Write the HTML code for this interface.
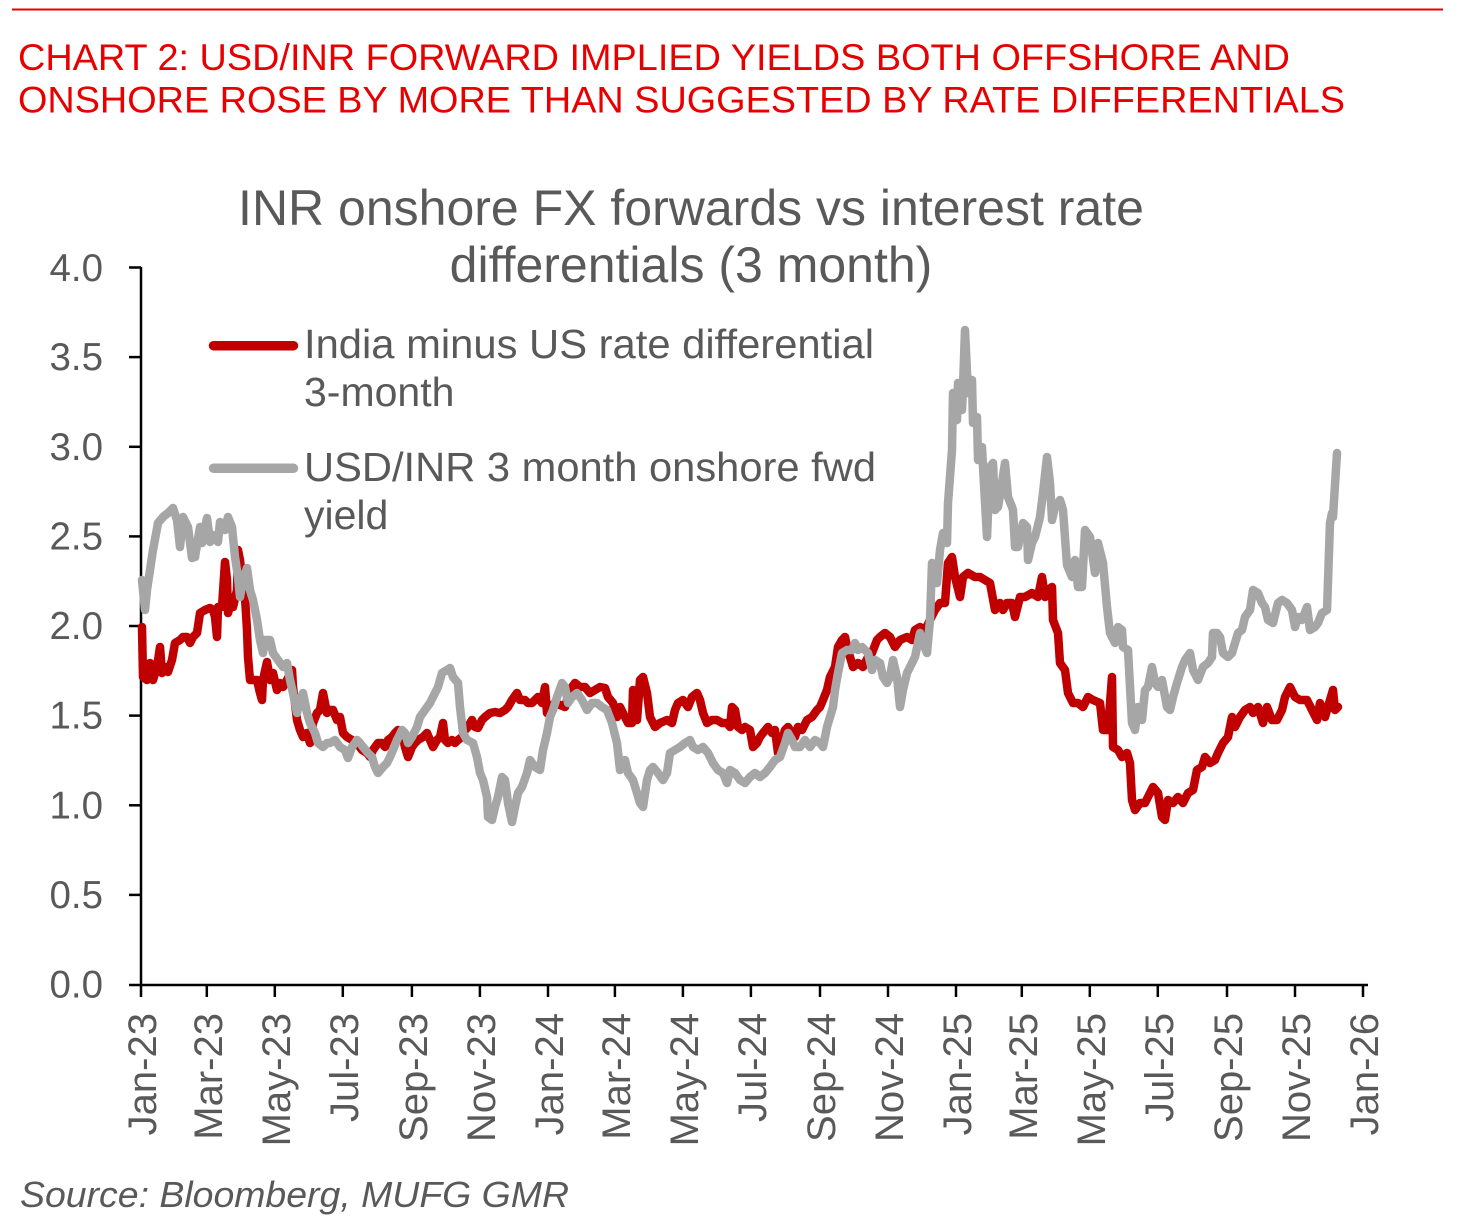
<!DOCTYPE html>
<html>
<head>
<meta charset="utf-8">
<style>
  html, body { margin:0; padding:0; background:#ffffff; }
  body { width:1465px; height:1223px; overflow:hidden; }
  svg { display:block; }
  text { font-family: "Liberation Sans", Arial, sans-serif; }
</style>
</head>
<body>
<svg width="1465" height="1223" viewBox="0 0 1465 1223" xmlns="http://www.w3.org/2000/svg">
  <rect x="0" y="0" width="1465" height="1223" fill="#ffffff"/>
  <!-- top rule -->
  <line x1="12" y1="9.5" x2="1443" y2="9.5" stroke="#E60000" stroke-width="2"/>

  <!-- red heading -->
  <text x="18" y="70" font-size="37.5" fill="#E60000" textLength="1272" lengthAdjust="spacingAndGlyphs">CHART 2: USD/INR FORWARD IMPLIED YIELDS BOTH OFFSHORE AND</text>
  <text x="18" y="112.7" font-size="37.5" fill="#E60000" textLength="1327" lengthAdjust="spacingAndGlyphs">ONSHORE ROSE BY MORE THAN SUGGESTED BY RATE DIFFERENTIALS</text>

  <!-- chart title -->
  <text x="691" y="225" font-size="50" fill="#595959" text-anchor="middle">INR onshore FX forwards vs interest rate</text>
  <text x="691" y="282" font-size="50" fill="#595959" text-anchor="middle">differentials (3 month)</text>

  <!-- y axis labels -->
  <g font-size="38.5" fill="#595959" text-anchor="end">
    <text x="103" y="281">4.0</text>
    <text x="103" y="370.2">3.5</text>
    <text x="103" y="459.9">3.0</text>
    <text x="103" y="549.5">2.5</text>
    <text x="103" y="639.1">2.0</text>
    <text x="103" y="728.7">1.5</text>
    <text x="103" y="818.4">1.0</text>
    <text x="103" y="908">0.5</text>
    <text x="103" y="997.5">0.0</text>
  </g>

  <!-- axes -->
  <g stroke="#000000" stroke-width="2.5" fill="none">
    <line x1="141" y1="267" x2="141" y2="986"/>
    <line x1="129" y1="985" x2="1368" y2="985"/>
    <!-- y ticks -->
    <line x1="129" y1="267.5" x2="141" y2="267.5"/>
    <line x1="129" y1="357.1" x2="141" y2="357.1"/>
    <line x1="129" y1="446.8" x2="141" y2="446.8"/>
    <line x1="129" y1="536.4" x2="141" y2="536.4"/>
    <line x1="129" y1="626" x2="141" y2="626"/>
    <line x1="129" y1="715.6" x2="141" y2="715.6"/>
    <line x1="129" y1="805.3" x2="141" y2="805.3"/>
    <line x1="129" y1="894.9" x2="141" y2="894.9"/>
    <!-- x ticks -->
    <line x1="141" y1="985" x2="141" y2="997"/>
    <line x1="206.8" y1="985" x2="206.8" y2="997"/>
    <line x1="274.8" y1="985" x2="274.8" y2="997"/>
    <line x1="342.8" y1="985" x2="342.8" y2="997"/>
    <line x1="411.9" y1="985" x2="411.9" y2="997"/>
    <line x1="479.9" y1="985" x2="479.9" y2="997"/>
    <line x1="548" y1="985" x2="548" y2="997"/>
    <line x1="614.9" y1="985" x2="614.9" y2="997"/>
    <line x1="682.9" y1="985" x2="682.9" y2="997"/>
    <line x1="750.9" y1="985" x2="750.9" y2="997"/>
    <line x1="820" y1="985" x2="820" y2="997"/>
    <line x1="888" y1="985" x2="888" y2="997"/>
    <line x1="956" y1="985" x2="956" y2="997"/>
    <line x1="1021.8" y1="985" x2="1021.8" y2="997"/>
    <line x1="1089.8" y1="985" x2="1089.8" y2="997"/>
    <line x1="1157.8" y1="985" x2="1157.8" y2="997"/>
    <line x1="1227" y1="985" x2="1227" y2="997"/>
    <line x1="1295" y1="985" x2="1295" y2="997"/>
    <line x1="1363" y1="985" x2="1363" y2="997"/>
  </g>

  <!-- x axis labels (rotated) -->
  <g font-size="40" fill="#595959" text-anchor="end">
    <text transform="translate(156,1013) rotate(-90)">Jan-23</text>
    <text transform="translate(221.8,1013) rotate(-90)">Mar-23</text>
    <text transform="translate(289.8,1013) rotate(-90)">May-23</text>
    <text transform="translate(357.8,1013) rotate(-90)">Jul-23</text>
    <text transform="translate(426.9,1013) rotate(-90)">Sep-23</text>
    <text transform="translate(494.9,1013) rotate(-90)">Nov-23</text>
    <text transform="translate(563,1013) rotate(-90)">Jan-24</text>
    <text transform="translate(629.9,1013) rotate(-90)">Mar-24</text>
    <text transform="translate(697.9,1013) rotate(-90)">May-24</text>
    <text transform="translate(765.9,1013) rotate(-90)">Jul-24</text>
    <text transform="translate(835,1013) rotate(-90)">Sep-24</text>
    <text transform="translate(903,1013) rotate(-90)">Nov-24</text>
    <text transform="translate(971,1013) rotate(-90)">Jan-25</text>
    <text transform="translate(1036.8,1013) rotate(-90)">Mar-25</text>
    <text transform="translate(1104.8,1013) rotate(-90)">May-25</text>
    <text transform="translate(1172.8,1013) rotate(-90)">Jul-25</text>
    <text transform="translate(1242,1013) rotate(-90)">Sep-25</text>
    <text transform="translate(1310,1013) rotate(-90)">Nov-25</text>
    <text transform="translate(1378,1013) rotate(-90)">Jan-26</text>
  </g>

  <!-- red series -->
  <polyline fill="none" stroke="#C00000" stroke-width="8.5" stroke-linejoin="round" stroke-linecap="round"
    points="142,627 143,677 147,680 150,663 153,680 157,667 160,647 162,673 165,667 168,672 172,660 175,643 180,640 183,637 187,637 190,643 193,637 197,633 200,613 205,610 210,608 213,610 215,617 217,637 218,607 222,607 225,562 227,580 228,613 232,600 233,607 237,590 238,550 240,560 243,587 245,597 247,630 248,657 250,680 253,680 257,680 260,693 262,700 263,680 267,662 270,680 273,673 277,690 280,683 283,687 287,680 292,670 293,687 297,720 300,730 303,737 307,733 310,743 313,723 317,713 320,710 323,693 327,713 330,710 333,710 337,720 340,717 343,733 347,737 352,740 357,743 362,750 367,753 370,757 373,750 378,743 382,743 385,747 388,740 392,737 395,733 398,730 402,733 405,747 408,757 412,747 415,743 418,740 423,737 427,733 430,740 433,747 437,740 440,737 443,723 445,740 448,743 452,740 455,743 458,740 462,737 465,730 468,727 472,720 475,727 478,728 482,720 485,717 490,713 495,712 500,713 505,710 508,707 512,700 517,693 520,700 525,700 528,703 532,703 535,700 538,697 542,703 545,687 547,713 550,707 555,703 560,705 565,707 570,690 575,683 580,687 585,687 590,693 595,690 600,687 605,688 608,697 613,703 617,717 620,707 625,717 628,723 632,723 633,690 637,720 640,680 643,677 647,693 650,717 655,727 660,723 667,720 672,723 675,710 678,703 683,700 688,707 692,697 697,693 700,700 703,713 707,723 712,720 717,720 722,723 727,723 730,727 732,707 735,710 738,727 742,730 745,727 750,730 753,747 757,743 760,737 763,733 768,727 772,733 775,730 778,753 782,740 785,730 788,727 792,733 795,737 798,727 802,730 807,720 812,717 817,710 820,707 823,700 827,690 830,677 835,667 838,647 842,640 845,637 847,647 850,657 853,667 858,663 863,667 868,657 872,653 877,640 880,637 885,633 890,637 895,647 900,640 907,637 912,640 915,630 920,627 925,630 930,620 935,610 940,603 945,603 948,563 952,557 955,577 960,597 963,577 968,573 975,577 980,577 985,580 990,583 995,610 1000,603 1003,610 1007,603 1012,603 1015,617 1020,597 1025,597 1032,593 1038,597 1042,577 1045,597 1048,590 1052,587 1053,620 1058,633 1060,663 1065,670 1068,693 1073,703 1078,703 1083,707 1088,697 1093,700 1100,703 1103,730 1108,730 1112,677 1113,747 1118,750 1122,757 1127,753 1130,763 1132,800 1135,810 1140,803 1145,803 1148,797 1153,787 1158,793 1162,817 1165,820 1168,800 1173,803 1178,797 1183,803 1188,793 1193,790 1197,770 1202,767 1205,757 1210,763 1215,760 1218,753 1223,743 1228,737 1232,717 1235,727 1240,717 1245,710 1250,707 1253,713 1258,707 1263,723 1267,707 1272,720 1277,720 1282,710 1285,697 1290,687 1295,697 1300,700 1307,700 1312,710 1317,720 1320,703 1325,717 1330,700 1333,690 1335,710 1338,707"/>

  <!-- grey series -->
  <polyline fill="none" stroke="#A6A6A6" stroke-width="8.5" stroke-linejoin="round" stroke-linecap="round"
    points="142,580 145,610 147,590 153,550 158,523 163,517 168,513 173,508 177,520 180,547 183,517 188,527 192,558 195,557 200,527 202,543 207,518 210,542 213,535 218,542 220,522 225,530 228,517 232,527 235,557 238,577 240,597 243,580 247,568 250,590 253,600 257,620 260,640 263,653 265,640 270,640 273,653 278,660 283,667 287,663 290,680 293,693 297,713 300,700 303,693 307,713 310,723 315,733 318,743 323,747 327,743 330,743 335,740 340,747 345,750 348,758 352,747 357,740 360,743 363,747 368,753 372,757 375,767 378,773 383,767 387,763 390,757 393,750 397,740 402,730 405,733 408,743 412,737 417,727 420,717 425,710 430,703 433,697 438,687 442,673 447,670 450,668 453,677 458,683 460,707 463,733 467,740 473,743 477,757 480,773 483,780 487,797 488,817 492,820 495,807 498,797 502,777 505,780 508,803 512,822 515,807 518,793 522,787 527,773 530,760 535,767 540,770 543,750 547,733 550,717 553,710 557,697 562,683 565,687 568,703 572,697 577,693 582,700 587,710 592,703 597,703 602,707 607,710 612,723 617,743 620,770 625,760 628,773 633,780 637,793 640,803 643,807 647,780 650,770 653,767 658,773 663,780 667,773 670,753 675,750 680,747 685,743 690,740 693,747 698,750 703,747 708,753 713,763 718,770 723,773 727,783 730,770 735,773 740,780 745,783 750,777 755,773 760,777 765,773 770,767 775,760 780,757 785,743 788,733 792,740 795,747 800,747 805,740 810,747 815,740 820,743 823,747 827,727 830,717 833,707 835,690 838,673 842,653 847,650 852,650 855,643 858,650 862,647 865,650 868,653 872,670 875,660 880,663 883,677 887,683 890,677 893,660 897,677 900,707 903,690 907,673 912,663 915,657 920,633 923,643 927,653 930,620 932,563 937,583 940,550 943,533 947,543 948,503 952,450 953,393 957,420 958,383 962,410 963,387 965,330 968,393 972,380 973,423 977,417 978,460 982,447 983,467 987,537 990,467 993,463 995,510 998,507 1002,483 1005,463 1008,497 1012,507 1013,510 1015,547 1018,547 1023,523 1027,527 1028,560 1032,543 1035,537 1040,517 1043,493 1047,457 1050,483 1052,520 1055,507 1060,500 1063,510 1067,565 1072,577 1075,560 1078,587 1082,587 1085,530 1090,537 1095,573 1098,543 1103,563 1107,607 1110,633 1115,643 1118,627 1122,630 1123,647 1128,650 1132,723 1135,730 1138,707 1142,720 1145,690 1148,687 1152,667 1155,683 1158,687 1162,680 1167,707 1170,710 1173,697 1177,683 1182,667 1185,660 1190,653 1193,670 1198,680 1203,667 1208,663 1212,657 1213,633 1217,633 1220,637 1223,653 1228,657 1232,653 1235,643 1238,633 1242,630 1245,617 1250,610 1253,590 1258,593 1262,603 1265,607 1268,620 1273,623 1278,603 1282,600 1287,603 1292,610 1295,627 1298,617 1302,620 1307,607 1310,630 1315,627 1318,623 1322,613 1327,610 1330,523 1332,513 1333,517 1337,453"/>

  <!-- legend -->
  <line x1="213.5" y1="345.7" x2="293.5" y2="345.7" stroke="#C00000" stroke-width="9.5" stroke-linecap="round"/>
  <line x1="213.5" y1="468.3" x2="293.5" y2="468.3" stroke="#A6A6A6" stroke-width="9.5" stroke-linecap="round"/>
  <g font-size="41" fill="#595959">
    <text x="304" y="358" textLength="570" lengthAdjust="spacingAndGlyphs">India minus US rate differential</text>
    <text x="304" y="406">3-month</text>
    <text x="304" y="481" textLength="572" lengthAdjust="spacingAndGlyphs">USD/INR 3 month onshore fwd</text>
    <text x="304" y="529">yield</text>
  </g>

  <!-- source -->
  <text x="20" y="1207" font-size="36.5" font-style="italic" fill="#595959" textLength="549" lengthAdjust="spacingAndGlyphs">Source: Bloomberg, MUFG GMR</text>
</svg>
</body>
</html>
